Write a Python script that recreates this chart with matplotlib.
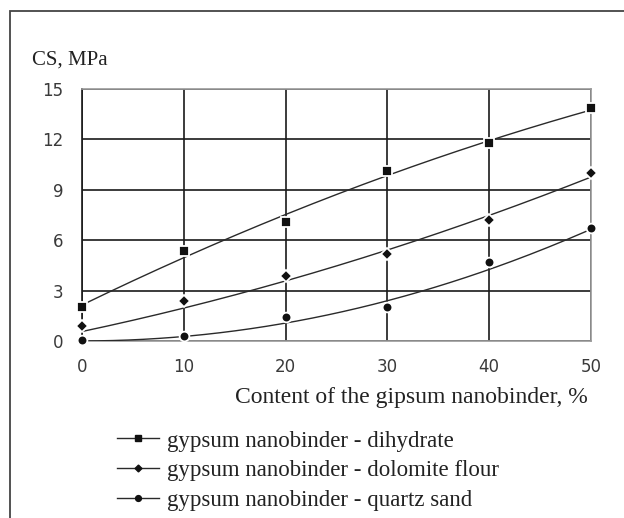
import matplotlib.pyplot as plt
import matplotlib.patches as mpatches
import numpy as np

plt.rcParams['font.family'] = ['Liberation Serif', 'DejaVu Serif']

# content of gypsum nanobinder, %
content = [0, 10, 20, 30, 40, 50]
# compressive strength, MPa (measured points)
cs_dihydrate = [2.0, 5.35, 7.1, 10.1, 11.8, 13.85]
cs_dolomite = [0.9, 2.4, 3.85, 5.15, 7.2, 10.0]
cs_quartz = [0.05, 0.3, 1.4, 2.05, 4.7, 6.7]
# trend lines as drawn in the chart
trend_dihydrate = [2.15, 4.95, 7.5, 9.9, 11.9, 13.75]
trend_dolomite = [0.65, 1.8, 3.6, 5.45, 7.55, 9.7]
trend_quartz = [0.0, 0.3, 1.05, 2.3, 4.4, 6.6]

labels = ['gypsum nanobinder - dihydrate',
          'gypsum nanobinder - dolomite flour',
          'gypsum nanobinder - quartz sand']
markers = ['s', 'D', 'o']
msizes = [6.5, 5.8, 7.0]
x_ticks = [0, 10, 20, 30, 40, 50]
y_ticks = [0, 3, 6, 9, 12, 15]

fig = plt.figure(figsize=(6.24, 5.18), dpi=100)
ax = fig.add_axes([82 / 624, 1 - 341 / 518, 509 / 624, 252 / 518])

# outer frame of the picture (runs off the right and bottom edges)
fig.patches.append(mpatches.Rectangle((9.5 / 624, -0.05), 1.1, 1 - 11 / 518 + 0.05,
                                      transform=fig.transFigure, fill=False,
                                      edgecolor='#444444', linewidth=1.3))

handles = []
xs = np.linspace(0, 50, 200)
for ys, tr, lab, m, ms in zip([cs_dihydrate, cs_dolomite, cs_quartz],
                              [trend_dihydrate, trend_dolomite, trend_quartz],
                              labels, markers, msizes):
    coef = np.polyfit(content, tr, 2)
    ax.plot(xs, np.polyval(coef, xs), color='#2a2a2a', linewidth=1.0, zorder=3)
    # white edge gives the small gap round each point, as in the original
    ax.plot(content, ys, linestyle='none', marker=m, markersize=ms,
            markerfacecolor='#111111', markeredgecolor='white', markeredgewidth=1.3,
            zorder=4, clip_on=False)
    h, = plt.plot([], [], color='#2a2a2a', linewidth=1.0, marker=m,
                  markersize=ms * 0.6, markerfacecolor='#111111', markeredgecolor='#111111')
    handles.append(h)

ax.set_xlim(0, 50)
ax.set_ylim(0, 15)
ax.set_xticks(x_ticks)
ax.set_yticks(y_ticks)
ax.grid(True, color='#1a1a1a', linewidth=1.2)
ax.set_axisbelow(True)
for s in ax.spines.values():
    s.set_color('#999999')
    s.set_linewidth(1.2)
ax.spines['left'].set_color('#1a1a1a')
ax.tick_params(length=0, labelsize=12, colors='#3a3a3a')
ax.tick_params(axis='x', pad=12)
ax.tick_params(axis='y', pad=13.5)
for t in ax.get_xticklabels() + ax.get_yticklabels():
    t.set_family('DejaVu Sans')

fig.text(32 / 624, 1 - 60 / 518, 'CS, MPa', fontsize=15, va='center', ha='left', color='#222222')
fig.text(588 / 624, 1 - 397 / 518, 'Content of the gipsum nanobinder, %', fontsize=17,
         va='center', ha='right', color='#222222')

fig.legend(handles=handles, labels=labels, loc='upper left',
           bbox_to_anchor=(106 / 624, 1 - 419 / 518), frameon=False,
           fontsize=16.5, handlelength=1.8, handletextpad=0.35, labelspacing=0.37,
           borderpad=0, labelcolor='#222222')

fig.savefig('out.png', dpi=100)
